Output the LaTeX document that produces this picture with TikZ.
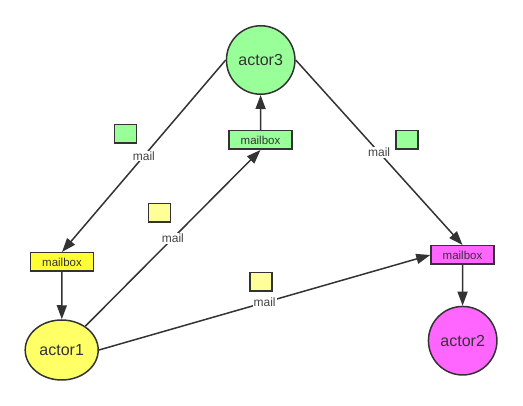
\documentclass[tikz,border=0pt]{standalone}
\usepackage{fontspec}
\setmainfont{Liberation Sans}
\usetikzlibrary{arrows.meta,shapes.geometric}
\definecolor{linegray}{HTML}{333333}
\definecolor{labelgray}{HTML}{444444}
\definecolor{actgreen}{HTML}{99FF99}
\definecolor{actyellow}{HTML}{FFFF66}
\definecolor{boxyellow}{HTML}{FFFF33}
\definecolor{mailyellow}{HTML}{FFFF99}
\definecolor{actpink}{HTML}{FF66FF}
\begin{document}
\begin{tikzpicture}[x=1pt,y=-1pt,
		actor/.style={circle,draw=linegray,line width=1.5pt,minimum size=68.5pt,inner sep=0pt,text=linegray,font=\fontsize{16}{18}\selectfont},
		mailbox/.style={rectangle,draw=linegray,line width=1.5pt,minimum width=63pt,minimum height=18.5pt,inner sep=0pt,text=linegray,font=\fontsize{11.5}{13}\selectfont},
		letter/.style={rectangle,draw=linegray,line width=1.5pt,minimum width=22pt,minimum height=18.5pt,inner sep=0pt},
		mail/.style={fill=white,inner sep=1pt,text=labelgray,font=\fontsize{12}{14}\selectfont},
		send/.style={draw=linegray,line width=1.5pt,-{Triangle[length=14pt,width=10pt]}}]
			\useasboundingbox (0,0) rectangle (523,406);
			\node[actor,fill=actgreen] (actor3) at (260.7,60) {actor3};
			\node[actor,ellipse,fill=actyellow,minimum width=73pt,minimum height=60pt] (actor1) at (61.7,350) {actor1};
			\node[actor,fill=actpink] (actor2) at (462.7,340.7) {actor2};
			\node[mailbox,fill=boxyellow] (mbox1) at (62,262) {mailbox};
			\node[mailbox,fill=actgreen] (mbox3) at (260.5,140) {mailbox};
			\node[mailbox,fill=actpink] (mbox2) at (462.5,255) {mailbox};
			\node[letter,fill=actgreen] (letter31) at (125.5,134) {};
			\node[letter,fill=actgreen] (letter32) at (407,140) {};
			\node[letter,fill=mailyellow] (letter13) at (159.3,212.7) {};
			\node[letter,fill=mailyellow] (letter12) at (261,282) {};
			\draw[send] (actor3.west) -- node[mail] {mail} (mbox1.north);
			\draw[send] (actor1) -- node[mail] {mail} (mbox3.south);
			\draw[send] (actor3.east) -- node[mail] {mail} (mbox2.north);
			\draw[send] (actor1.east) -- node[mail] {mail} (mbox2.west);
			\draw[send] (mbox1) -- (actor1);
			\draw[send] (mbox3) -- (actor3);
			\draw[send] (mbox2) -- (actor2);
		\end{tikzpicture}
\end{document}
